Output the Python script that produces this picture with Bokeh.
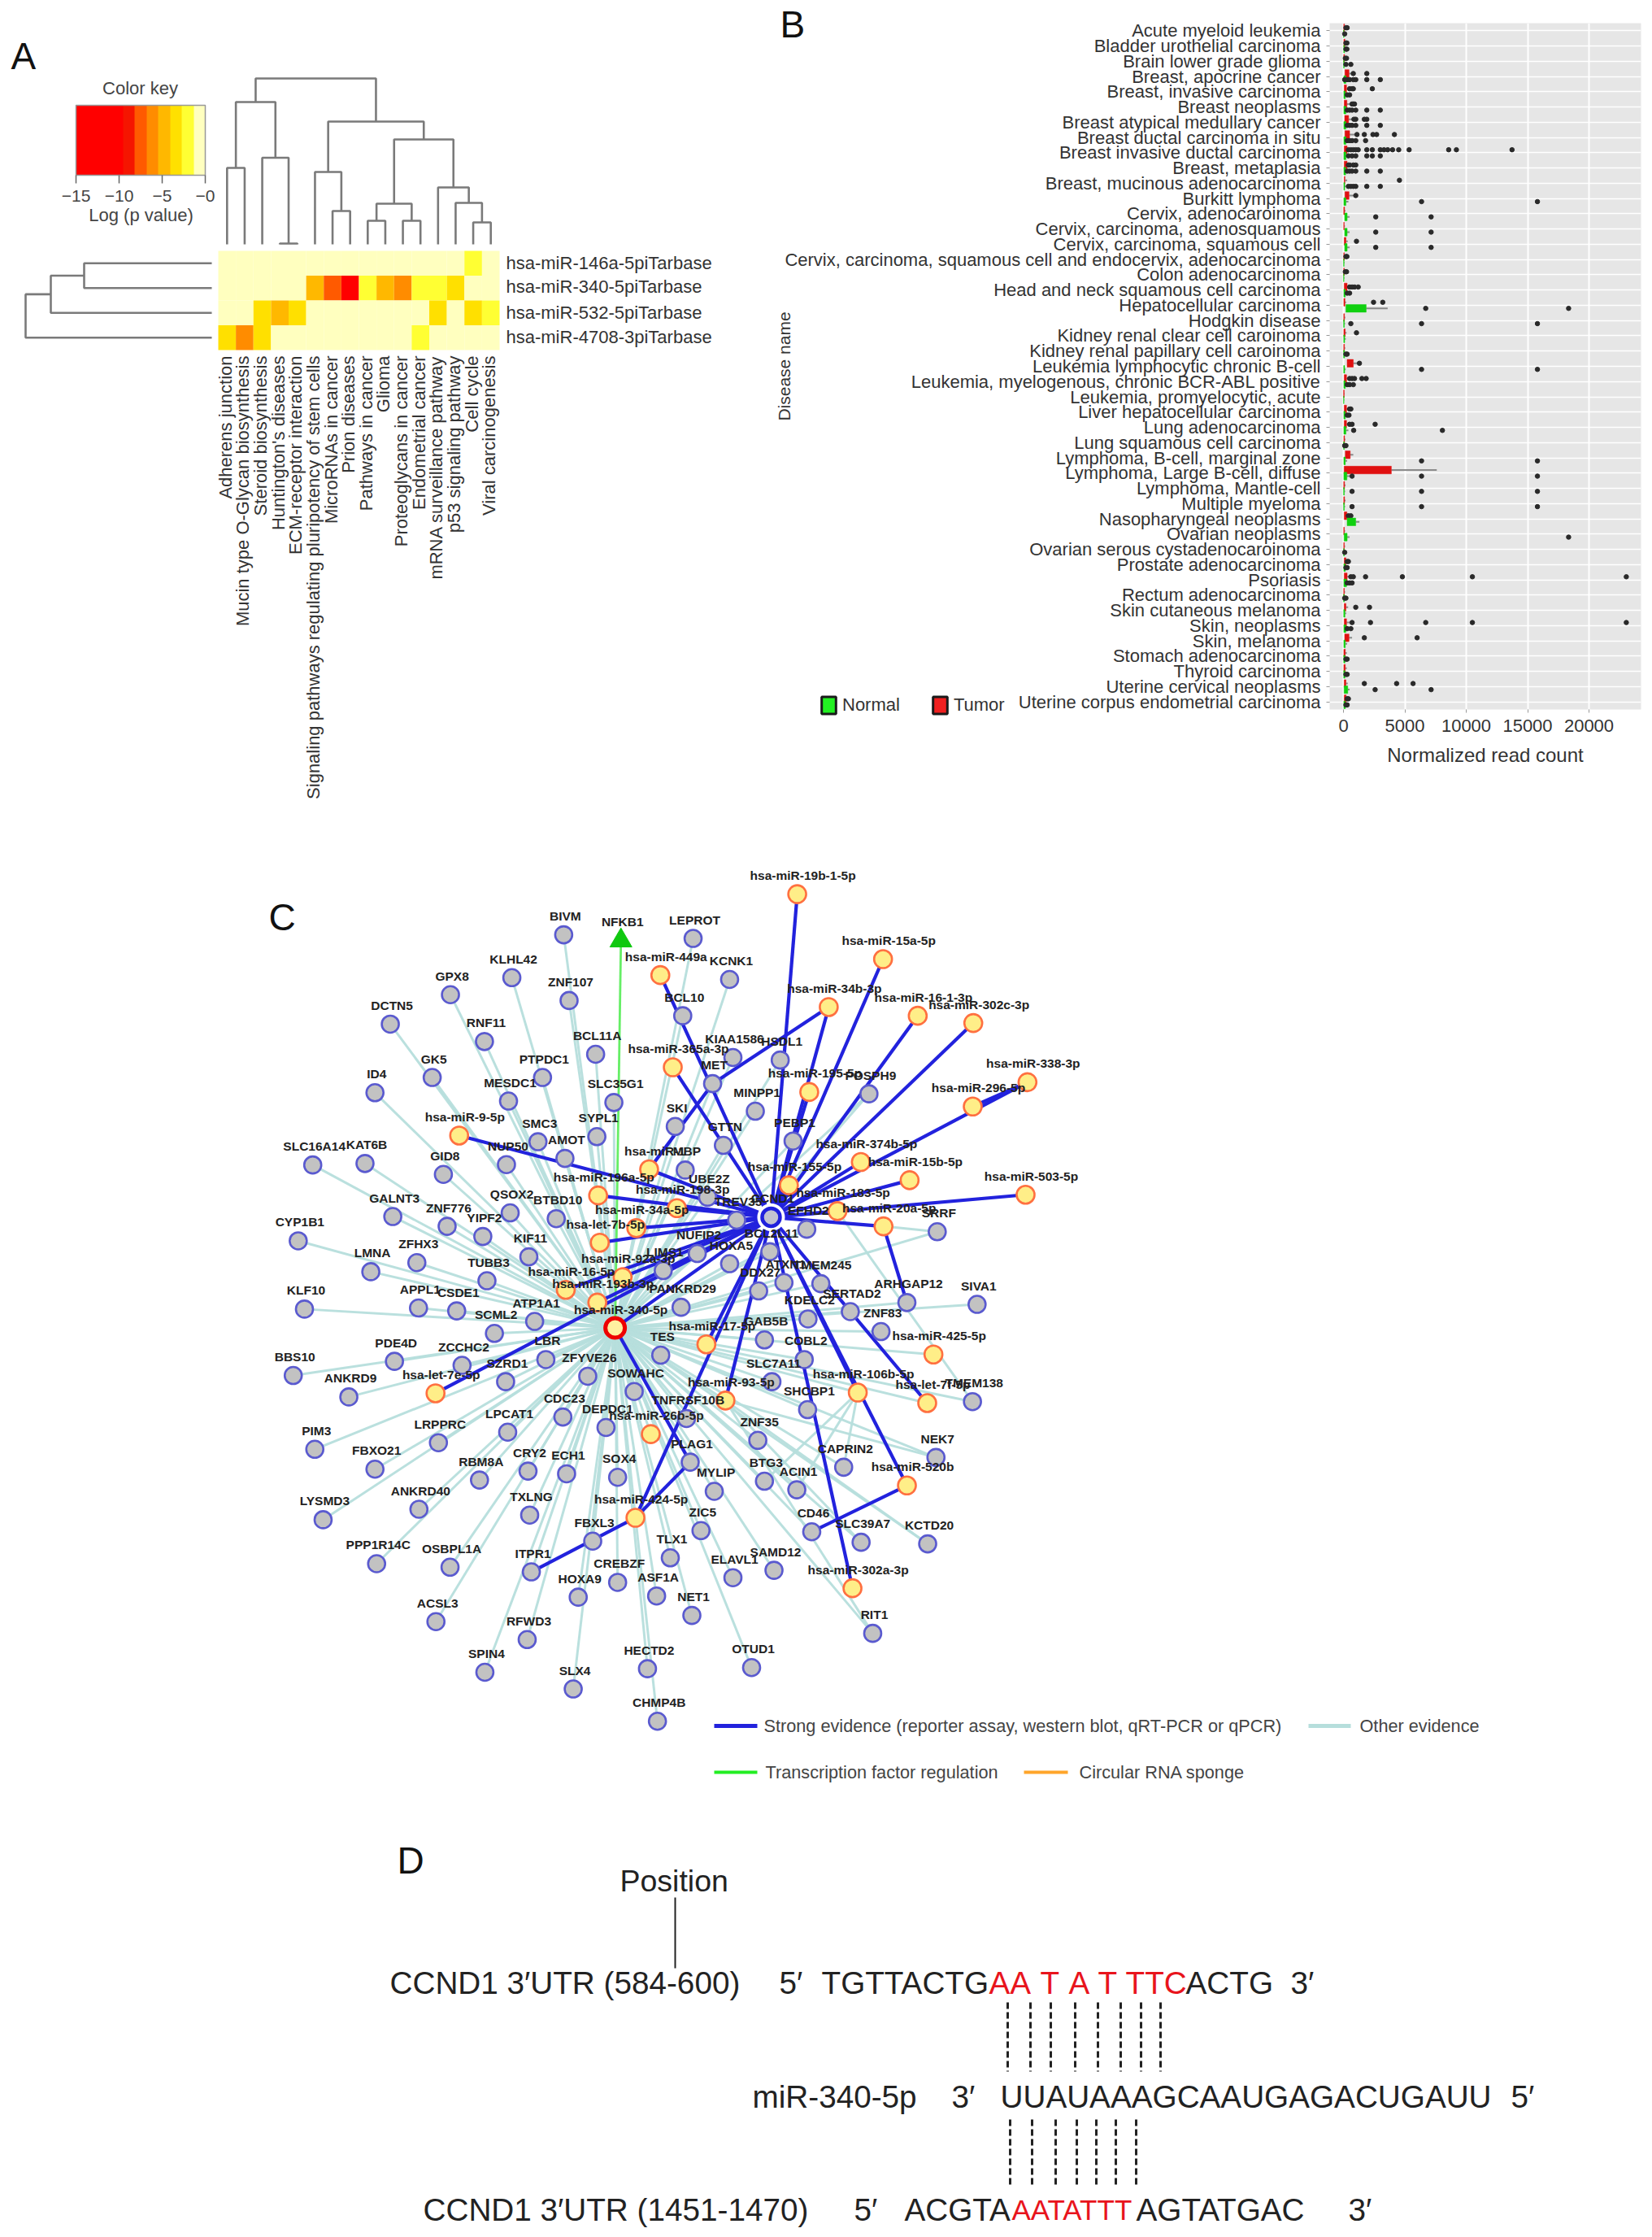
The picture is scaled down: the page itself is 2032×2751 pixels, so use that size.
import math
from bokeh.plotting import figure
from bokeh.layouts import row, column
from bokeh.models import (Range1d, FactorRange, ColumnDataSource, LinearColorMapper, ColorBar,
                          FixedTicker, Legend, LegendItem)
from bokeh.core.properties import value
from bokeh.transform import dodge
from bokeh.embed import file_html
from bokeh.resources import INLINE

FONT = value("Liberation Sans")

# ---------------- Panel A data ----------------
pathways = ["Adherens junction", "Mucin type O-Glycan biosynthesis", "Steroid biosynthesis", "Huntington's diseases",
            "ECM-receptor interaction", "Signaling pathways regulating pluripotency of stem cells", "MicroRNAs in cancer",
            "Prion diseases", "Pathways in cancer", "Glioma", "Proteoglycans in cancer", "Endometrial cancer",
            "mRNA surveillance pathway", "p53 signaling pathway", "Cell cycle", "Viral carcinogenesis"]
mirnas = ["hsa-miR-146a-5piTarbase", "hsa-miR-340-5piTarbase", "hsa-miR-532-5piTarbase", "hsa-miR-4708-3piTarbase"]
log_p = [
    [0, 0, 0, 0, 0, 0, 0, 0, 0, 0, 0, 0, 0, 0, -2, 0],
    [0, 0, 0, 0, 0, -5, -7.5, -14, -2, -4.5, -6.5, -2, -2, -4, 0, 0],
    [0, 0, -4, -5, -4, 0, 0, 0, 0, 0, 0, 0, -4, 0, -3, -2],
    [-3, -6.5, -3, 0, 0, 0, 0, 0, 0, 0, 0, -2, 0, 0, 0, 0],
]
key_palette = ["#FF0000", "#FF0000", "#FF0000", "#FF0000", "#F51500", "#FF5A00", "#FF8C00", "#FFB800", "#FFE000", "#FFFF33", "#FFFFBF"]
top_tree = (((0, 1, 94), (2, (3, 4, 1), 106.5), 175),
            ((5, (6, 7, 41), 89),
             (((8, 9, 29), (10, 11, 29), 50), (12, (13, (14, 15, 27), 51), 70), 129), 151), 204)
left_tree = (((0, 1, 157), 2, 198), 3, 229)

# ---------------- Panel B data ----------------
diseases = ["Acute myeloid leukemia", "Bladder urothelial carcinoma", "Brain lower grade glioma", "Breast, apocrine cancer",
            "Breast, invasive carcinoma", "Breast neoplasms", "Breast atypical medullary cancer", "Breast ductal carcinoma in situ",
            "Breast invasive ductal carcinoma", "Breast, metaplasia", "Breast, mucinous adenocarcinoma", "Burkitt lymphoma",
            "Cervix, adenocaroinoma", "Cervix, carcinoma, adenosquamous", "Cervix, carcinoma, squamous cell",
            "Cervix, carcinoma, squamous cell and endocervix, adenocarcinoma", "Colon adenocarcinoma",
            "Head and neck squamous cell carcinoma", "Hepatocellular carcinoma", "Hodgkin disease",
            "Kidney renal clear cell caroinoma", "Kidney renal papillary cell caroinoma", "Leukemia lymphocytic chronic B-cell",
            "Leukemia, myelogenous, chronic BCR-ABL positive", "Leukemia, promyelocytic, acute", "Liver hepatocellular carcinoma",
            "Lung adenocarcinoma", "Lung squamous cell carcinoma", "Lymphoma, B-cell, marginal zone",
            "Lymphoma, Large B-cell, diffuse", "Lymphoma, Mantle-cell", "Multiple myeloma", "Nasopharyngeal neoplasms",
            "Ovarian neoplasms", "Ovarian serous cystadenocaroinoma", "Prostate adenocarcinoma", "Psoriasis",
            "Rectum adenocarcinoma", "Skin cutaneous melanoma", "Skin, neoplasms", "Skin, melanoma", "Stomach adenocarcinoma",
            "Thyroid carcinoma", "Uterine cervical neoplasms", "Uterine corpus endometrial carcinoma"]
tumor_q1 = [20,30,20,120,60,60,100,120,60,60,60,120,20,20,60,20,20,60,30,20,30,20,300,60,10,60,60,30,150,50,20,20,60,20,20,60,60,20,60,60,100,30,30,60,60]
tumor_q3 = [80,120,90,450,250,280,420,500,300,300,120,450,90,60,200,70,60,300,120,80,140,80,800,250,60,250,250,90,550,3900,90,90,280,70,70,200,300,70,200,250,450,150,150,200,220]
tumor_wh = [150,220,150,900,500,600,850,1000,650,600,300,900,160,120,350,120,110,550,220,150,250,140,1200,500,100,450,450,160,800,7600,170,170,500,130,130,350,550,130,380,500,700,270,270,350,400]
normal_q1 = [10,20,10,30,30,30,30,30,30,30,30,30,100,100,100,10,10,30,200,10,20,10,20,30,10,30,30,10,30,30,10,10,300,50,10,30,30,10,20,30,30,20,20,50,30]
normal_q3 = [40,80,60,200,150,200,200,200,200,180,100,200,300,300,300,50,40,150,1850,70,100,90,100,150,40,150,200,70,150,280,70,70,1000,300,60,150,250,70,120,200,150,120,120,350,150]
normal_wh = [80,160,110,400,300,400,400,400,400,350,200,400,500,500,500,90,80,300,3600,130,190,170,180,300,70,300,400,130,300,500,130,130,1300,500,110,300,500,130,230,400,300,240,240,500,300]
tumor_out = [[200,300],[200,280],[150,250],[800,1900],[500,700,800,2350],[700,800,900],[850,1000,1900,1700],[1100,1700,2400,2700,4150],
             [400,600,800,1000,1200,1900,2350,3000,3300,3600,4000,4500,5350,8570,9200,13730],[400,500,800,1000],[4560],[1000],
             [],[],[1060],[200,280],[150,250],[500,700,900,1200],[2450,3200],[],[1060],[],[1300],[500,700,900,1500,1850],[],
             [500,600],[500,700,2580],[],[],[],[],[],[400,600],[],[],[300,400],[600,800,1800,4800,10500,23040],[],[1000,2120],
             [700,2200,6700,10500,23040],[1700,6000],[],[],[1700,4330,5670],[300,400]]
normal_out = [[100],[200,280],[200,600],[100,300,500,800,1000,1900,3000],[300,500],[300,500,700,1000,1900,3000],[300,500,700,1000,1900,3000],
              [300,500,700,1000,1800],[400,700,1000,1900,2350,3000],[300,500,700,1000,1900,3000],[400,600,800,1000,1900,3000],[6360,15800],
              [2630,7140],[2630,7140],[2630,7140],[],[],[300,500],[6700,18340],[600,6360,15800],[],[300,200],[6360,15800],
              [300,500,800],[],[300,450],[830,8060],[200,100],[6360,15800],[700,6360,15800],[700,6360,15800],[700,6360,15800],[],
              [18340],[100],[300,200],[300,500,700],[200,100],[],[300,600],[],[300,200],[300,200],[2580,7140],[300,200]]
x_ticks = [0, 5000, 10000, 15000, 20000]

# ---------------- Panel C data (positions) ----------------
# frames are the picture crops the coordinates were read in: origin x, origin y, scale x, scale y
F4, F5, F6, F7 = (300, 1050, 1.96, 2.24), (1000, 1050, 3.0, 2.24), (300, 1500, 1.96, 2.09), (800, 1500, 1.568, 2.09)
genes_f4 = [("BIVM",770,222),("LEPROT",1082,232),("KCNK1",1170,345),("KLHL42",645,340),("GPX8",497,387),("ZNF107",783,403),
            ("DCTN5",352,468),("BCL10",1057,445),("RNF11",579,516),("BCL11A",847,551),("GK5",453,615),("PTPDC1",719,615),
            ("KIAA1586",1178,560),("HSDL1",1292,567),("ID4",315,657),("MESDC1",637,680),("SLC35G1",891,684),("MET",1129,632),
            ("MINPP1",1232,708),("SMC3",708,792),("SYPL1",850,778),("AMOT",773,838),("SKI",1039,750),("GTTN",1155,802),
            ("PEBP1",1323,790),("NUP50",632,855),("SLC16A14",165,856),("KAT6B",291,852),("GID8",480,882),("MBP",1063,870),
            ("UBE2Z",1117,945),("TREV35",1187,1008),("QSOX2",641,988),("BTBD10",752,1004),("GALNT3",358,998),("ZNF776",489,1025),
            ("YIPF2",575,1053),("CYP1B1",130,1065),("KIF11",686,1109),("LIMS1",1010,1147),("HOXA5",1170,1128),("NUFIP2",1092,1100),
            ("BCL2L11",1267,1095),("EFHD2",1356,1033),("ATXN1",1301,1180),("TMEM245",1390,1183),("DDX27",1240,1203),
            ("SERTAD2",1461,1260),("KDELC2",1359,1280),("ZNF83",1535,1315),("ZFHX3",416,1125),("LMNA",305,1150),("TUBB3",585,1175),
            ("KLF10",145,1253),("APPL1",420,1250),("CSDE1",512,1258),("ATP1A1",700,1287),("SCML2",603,1320),("PANKRD29",1053,1248),
            ("GAB5B",1254,1338),("TES",1004,1380),("COBL2",1350,1392),("PDE4D",362,1397),("ZCCHC2",525,1408),("LBR",727,1392),
            ("ZFYVE26",828,1438),("BBS10",118,1436),("ANKRD9",252,1495),("SZRD1",630,1453),("SOWAHC",940,1480),("SLC7A11",1272,1453),
            ("SHCBP1",1358,1530)]
genes_f6 = [("TNFRSF10B",1066,510),("CDC23",768,506),("LPCAT1",635,545),("DEPDC1",872,533),("ZNF35",1238,566),("LRPPRC",468,572),
            ("PIM3",170,589),("FBXO21",315,640),("RBM8A",567,668),("CRY2",684,645),("ECH1",777,652),("SOX4",900,661),("PLAG1",1075,622),
            ("BTG3",1254,671),("CAPRIN2",1445,635),("MYLIP",1133,697),("ACIN1",1332,693),("ANKRD40",421,743),("LYSMD3",190,770),
            ("TXLNG",688,758),("ZIC5",1101,798),("FBXL3",840,825),("CD46",1368,801),("SLC39A7",1487,828),("PPP1R14C",319,883),
            ("OSBPL1A",496,892),("ITPR1",692,904),("TLX1",1027,868),("ELAVL1",1178,919),("SAMD12",1277,900),("CREBZF",900,931),
            ("HOXA9",805,969),("ASF1A",994,966),("NET1",1079,1016),("ACSL3",462,1032),("RFWD3",682,1078),("RIT1",1515,1062),
            ("SPIN4",580,1162),("HECTD2",972,1153),("OTUD1",1223,1150),("SLX4",793,1205),("CHMP4B",996,1288)]
genes_f5 = [("POSPH9",205,660),("SRRF",457,1040),("ARHGAP12",345,1235),("SIVA1",604,1240),("TMEM138",587,1508)]
genes_f7 = [("NEK7",550,610),("KCTD20",534,832)]
mirs_f4 = [("hsa-miR-19b-1-5p",1333,110),("hsa-miR-449a",1003,333),("hsa-miR-34b-3p",1409,421),("hsa-miR-365a-3p",1033,587),
           ("hsa-miR-195-5p",1362,655),("hsa-miR-9-5p",518,775),("hsa-miR-1",976,868),("hsa-miR-155-5p",1313,912),
           ("hsa-miR-196a-5p",853,940),("hsa-miR-198-3p",1043,975),("hsa-miR-34a-5p",945,1030),("hsa-let-7b-5p",857,1070),
           ("hsa-miR-183-5p",1430,983),("hsa-miR-20a-5p",1541,1025),("hsa-miR-92a-3p",912,1165),("hsa-miR-16-5p",775,1200),
           ("hsa-miR-193b-3p",851,1235),("hsa-miR-17-5p",1114,1350),("hsa-let-7e-5p",461,1485),("hsa-miR-93-5p",1160,1505),
           ("hsa-miR-106b-5p",1479,1483)]
mirs_f5 = [("hsa-miR-15a-5p",257,289),("hsa-miR-16-1-3p",385,445),("hsa-miR-302c-3p",590,465),("hsa-miR-338-3p",790,628),
           ("hsa-miR-296-5p",588,695),("hsa-miR-374b-5p",175,848),("hsa-miR-15b-5p",355,898),("hsa-miR-503-5p",783,938),
           ("hsa-miR-425-5p",443,1378),("hsa-let-7f-5p",420,1512)]
mirs_f6 = [("hsa-miR-26b-5p",980,550),("hsa-miR-424-5p",943,765)]
mirs_f7 = [("hsa-miR-520b",494,682),("hsa-miR-302a-3p",389,946)]
hubs_f4 = [("hsa-miR-340-5p",894,1305),("CCND1",1270,1000),("NFKB1",908,238)]
strong_to_ccnd1 = ["hsa-miR-19b-1-5p","hsa-miR-449a","hsa-miR-34b-3p","hsa-miR-365a-3p","hsa-miR-195-5p","hsa-miR-9-5p","hsa-miR-1",
                   "hsa-miR-155-5p","hsa-miR-196a-5p","hsa-miR-198-3p","hsa-miR-34a-5p","hsa-let-7b-5p","hsa-miR-183-5p","hsa-miR-20a-5p",
                   "hsa-miR-92a-3p","hsa-miR-16-5p","hsa-miR-193b-3p","hsa-miR-17-5p","hsa-let-7e-5p","hsa-miR-93-5p","hsa-miR-106b-5p",
                   "hsa-miR-15a-5p","hsa-miR-16-1-3p","hsa-miR-302c-3p","hsa-miR-338-3p","hsa-miR-374b-5p","hsa-miR-15b-5p","hsa-miR-503-5p",
                   "hsa-let-7f-5p","hsa-miR-424-5p","hsa-miR-520b","hsa-miR-302a-3p","hsa-miR-340-5p"]
strong_other = [("hsa-miR-34b-3p","MET"),("MET","hsa-miR-1"),("hsa-miR-340-5p","PLAG1"),("hsa-miR-424-5p","ITPR1"),("hsa-miR-424-5p","PLAG1"),
                ("hsa-miR-520b","CD46"),("hsa-miR-20a-5p","ARHGAP12"),("hsa-miR-296-5p","hsa-miR-338-3p")]
other_extra = [("hsa-miR-93-5p","NEK7"),("hsa-miR-93-5p","SLC39A7"),("hsa-miR-93-5p","KCTD20"),("hsa-miR-93-5p","RIT1"),
               ("hsa-miR-106b-5p","BTG3"),("hsa-miR-106b-5p","ACIN1"),("hsa-miR-106b-5p","CAPRIN2"),("hsa-miR-155-5p","POSPH9"),
               ("hsa-miR-20a-5p","SRRF"),("hsa-miR-183-5p","TMEM138")]
tf_edges = [("NFKB1","hsa-miR-340-5p")]

# ---------------- Panel D data ----------------
d_text = ["Position","CCND1 3\u2032UTR (584-600)","5\u2032","TGTTACTG","AA","T","A","T","TTC","ACTG","3\u2032",
          "miR-340-5p","3\u2032","UUAUAAAGCAAUGAGACUGAUU","5\u2032",
          "CCND1 3\u2032UTR (1451-1470)","5\u2032","ACGTA","AATATTT","AGTATGAC","3\u2032"]
d_x = [762,479,958,1010,1216,1279,1314,1350,1384,1458,1587,925,1170,1230,1858,520,1050,1112,1244,1397,1658]
d_y = [2312,2438,2438,2438,2438,2438,2438,2438,2438,2438,2438,2578,2578,2578,2578,2717,2717,2717,2717,2717,2717]
d_col = ["#222","#222","#222","#222","#E8141C","#E8141C","#E8141C","#E8141C","#E8141C","#222","#222",
         "#222","#222","#222","#222","#222","#222","#222","#E8141C","#222","#222"]
d_size = ["37.5px"]+["38.7px"]*17+["35px"]+["38.7px"]*2
pairs_top = [1239,1267,1292,1322,1350,1378,1403,1427]
pairs_bottom = [1242,1269,1298,1324,1348,1372,1397]


def bare(p):
    p.xgrid.visible = False
    p.ygrid.visible = False
    p.outline_line_color = None


# ---------------- Panel A (its canvas runs on beneath panel B's label margin) ----------------
AX0, AX1, AY0, AY1 = 0, 1240, 0, 990
HX, HY, CW, RH = 268.0, 308.0, 21.625, 30.5
A = figure(width=AX1-AX0, height=AY1-AY0, output_backend="svg", toolbar_location=None, min_border=0, frame_align=False,
           x_axis_location=None, y_axis_location=None,
           x_range=Range1d((AX0-HX)/CW-0.5, (AX1-HX)/CW-0.5), y_range=Range1d((AY1-HY)/RH-0.5, (AY0-HY)/RH-0.5))
bare(A)
A.extra_x_ranges = {"px": Range1d(AX0, AX1), "tree": Range1d(260-AX0, 260-AX1)}
A.extra_y_ranges = {"py": Range1d(AY1, AY0), "tree": Range1d(300-AY1, 300-AY0)}

mapper = LinearColorMapper(palette=key_palette, low=-15, high=0)
cells = dict(col=[], r=[], v=[])
for r, vals in enumerate(log_p):
    for c, v in enumerate(vals):
        cells["col"].append(c); cells["r"].append(r); cells["v"].append(v)
A.rect(x="col", y="r", width=1, height=1, source=ColumnDataSource(cells),
       fill_color={"field": "v", "transform": mapper}, line_color=None)


def walk(n, xs, ys):
    if isinstance(n, int):
        return float(n), 0.0
    a, ah = walk(n[0], xs, ys)
    b, bh = walk(n[1], xs, ys)
    h = n[2]
    xs.append([a, a, b, b]); ys.append([ah, h, h, bh])
    return (a+b)/2, h


tx, ty = [], []
walk(top_tree, tx, ty)
A.multi_line(tx, ty, y_range_name="tree", line_color="#7A7A7A", line_width=2.6)
lh, lr = [], []
walk(left_tree, lr, lh)
A.multi_line(lh, lr, x_range_name="tree", line_color="#7A7A7A", line_width=2.6)

A.text(x=list(range(16)), y=[3.5]*16, text=pathways, angle=math.pi/2, text_align="right", text_baseline="middle",
       y_offset=7, x_offset=-2, text_font=FONT, text_font_size="22px", text_color="#333")
A.text(x=[15.5]*4, y=[0, 0.95, 2, 2.98], text=mirnas, x_offset=8, text_baseline="middle", text_font=FONT,
       text_font_size="22px", text_color="#333")
A.text(x=[172, 173], y=[108, 264], text=["Color key", "Log (p value)"], x_range_name="px", y_range_name="py",
       text_align="center", text_baseline="middle", text_font=FONT, text_font_size="22px", text_color="#444")
A.text(x=[13, 959], y=[68, 29], text=["A", "B"], x_range_name="px", y_range_name="py", text_font=FONT,
       text_font_size="46px", text_color="#111", text_baseline="middle")
cb = ColorBar(color_mapper=mapper, orientation="horizontal", location=(93, 740), width=159, height=86,
              ticker=FixedTicker(ticks=[-15, -10, -5, 0]),
              major_label_overrides={-15: "\u221215", -10: "\u221210", -5: "\u22125", 0: "\u22120"},
              major_label_text_font="Liberation Sans", major_label_text_font_size="21px", major_label_text_color="#444",
              major_tick_in=0, major_tick_out=10, major_tick_line_color="#666", major_tick_line_width=1.5,
              label_standoff=8, bar_line_color="#999", bar_line_width=1.5, padding=0, margin=0,
              background_fill_alpha=0, border_line_color=None)
A.add_layout(cb)
nan = float("nan")
rn = A.rect(x=[nan], y=[nan], width=1, height=1, fill_color="#22F022", line_color="#1A1A1A", line_width=3)
rt = A.rect(x=[nan], y=[nan], width=1, height=1, fill_color="#F02020", line_color="#1A1A1A", line_width=3)
leg = Legend(items=[LegendItem(label="Normal", renderers=[rn]), LegendItem(label="Tumor", renderers=[rt])],
             orientation="horizontal", location=(1008, 990-880), glyph_width=22, glyph_height=26, label_standoff=6, spacing=38,
             padding=0, margin=0, border_line_color=None, background_fill_alpha=0,
             label_text_font="Liberation Sans", label_text_font_size="22px", label_text_color="#333")
A.add_layout(leg)

# ---------------- Panel B ----------------
BX0, BX1, BY0, BY1 = 930, 2032, 0, 990
FL, FR, FT, FB = 1635, 2018, 28, 872
Y = FactorRange(factors=diseases[::-1], range_padding=0, factor_padding=0)
PX_PER_UNIT = (1954-1652)/20000
B = figure(width=BX1-BX0, height=BY1-BY0, output_backend="svg", toolbar_location=None, frame_align=False,
           margin=(0, 0, 0, BX0-AX1), border_fill_color=None,
           y_range=Y, x_range=Range1d((FL-1652)/PX_PER_UNIT, (FR-1652)/PX_PER_UNIT),
           min_border_left=FL-BX0, min_border_right=BX1-FR, min_border_top=FT-BY0, min_border_bottom=BY1-FB,
           background_fill_color="#E6E6E6", outline_line_color=None)
B.xgrid.grid_line_color = "white"; B.xgrid.grid_line_width = 2
B.ygrid.grid_line_color = "white"; B.ygrid.grid_line_width = 1.6
B.xaxis.ticker = FixedTicker(ticks=x_ticks)
B.xaxis.axis_line_color = None; B.yaxis.axis_line_color = None
B.xaxis.major_tick_line_color = "#999"; B.yaxis.major_tick_line_color = "#999"
B.xaxis.major_tick_out = 4; B.yaxis.major_tick_out = 4
B.xaxis.major_tick_in = 0; B.yaxis.major_tick_in = 0
B.xaxis.minor_tick_line_color = None
for ax in (B.xaxis, B.yaxis):
    ax.major_label_text_font = "Liberation Sans"; ax.major_label_text_font_size = "22px"; ax.major_label_text_color = "#333"
    ax.axis_label_text_font = "Liberation Sans"; ax.axis_label_text_font_style = "normal"
    ax.axis_label_text_color = "#333"
B.xaxis.axis_label = "Normalized read count"; B.xaxis.axis_label_text_font_size = "24px"; B.xaxis.axis_label_standoff = 12
B.yaxis.axis_label = "Disease name"; B.yaxis.axis_label_text_font_size = "21px"; B.yaxis.axis_label_standoff = -14
B.xaxis.major_label_standoff = 8; B.yaxis.major_label_standoff = 7

for off, q1, q3, wh, col, outs in [(0.2, tumor_q1, tumor_q3, tumor_wh, "#E01010", tumor_out),
                                   (-0.2, normal_q1, normal_q3, normal_wh, "#10D010", normal_out)]:
    src = ColumnDataSource(dict(d=diseases, q1=q1, q3=q3, wh=wh))
    yy = dodge("d", off, range=Y)
    B.segment(x0="q3", x1="wh", y0=yy, y1=yy, source=src, line_color="#8A8A8A", line_width=2)
    B.hbar(y=yy, left="q1", right="q3", height=0.5, source=src, fill_color=col, line_color=col, line_width=0.5)
    ox = [v for vs in outs for v in vs]
    oy = [d for d, vs in zip(diseases, outs) for _ in vs]
    B.scatter(x="x", y=dodge("y", off, range=Y), source=ColumnDataSource(dict(x=ox, y=oy)), size=5.5,
              fill_color="#2A2A2A", line_color="#2A2A2A")

# ---------------- Panel C ----------------
CX0, CX1, CY0, CY1 = 0, 2032, 990, 2240
C = figure(width=CX1-CX0, height=CY1-CY0, output_backend="svg", toolbar_location=None, min_border=0, frame_align=False,
           x_axis_location=None, y_axis_location=None, x_range=Range1d(CX0, CX1), y_range=Range1d(CY1, CY0))
bare(C)


def place(items, f):
    return {n: (f[0]+zx/f[2], f[1]+zy/f[3]) for n, zx, zy in items}


G = {}
for items, f in [(genes_f4, F4), (genes_f6, F6), (genes_f5, F5), (genes_f7, F7)]:
    G.update(place(items, f))
M = {}
for items, f in [(mirs_f4, F4), (mirs_f5, F5), (mirs_f6, F6), (mirs_f7, F7)]:
    M.update(place(items, f))
H = place(hubs_f4, F4)
POS = {**G, **M, **H}
HUB340, CCND1 = "hsa-miR-340-5p", "CCND1"


def edges(pairs, color, width, alpha=1.0):
    C.segment(x0=[POS[a][0] for a, b in pairs], y0=[POS[a][1] for a, b in pairs],
              x1=[POS[b][0] for a, b in pairs], y1=[POS[b][1] for a, b in pairs],
              line_color=color, line_width=width, line_alpha=alpha)


edges([(HUB340, n) for n in list(G)+["hsa-miR-425-5p", "hsa-miR-26b-5p", "hsa-let-7f-5p", "hsa-miR-106b-5p", "hsa-miR-93-5p"]]+other_extra,
      "#B6DEDC", 3.0, 0.95)
edges(tf_edges, "#66EE66", 2.8)
edges([(CCND1, n) for n in strong_to_ccnd1]+strong_other, "#2222DD", 4.2)


def nodes(names, **kw):
    C.scatter(x=[POS[n][0] for n in names], y=[POS[n][1] for n in names], **kw)


nodes(list(G), size=21, fill_color="#C2C2C2", line_color="#5A5ACF", line_width=2.6)
nodes(list(M), size=22, fill_color="#FFEE88", line_color="#FF7040", line_width=2.6)
C.scatter(x=[POS[HUB340][0]], y=[POS[HUB340][1]], size=24, fill_color="#FFF0A0", line_color="#EE0000", line_width=5)
C.scatter(x=[POS[CCND1][0]], y=[POS[CCND1][1]], size=34, fill_color="white", line_color=None)
C.scatter(x=[POS[CCND1][0]], y=[POS[CCND1][1]], size=22, fill_color="#C2C2D0", line_color="#2020DD", line_width=4.5)
C.scatter(x=[POS["NFKB1"][0]], y=[POS["NFKB1"][1]], marker="triangle", size=27, fill_color="#10C810", line_color="#10C810")

lab = dict(x=[], y=[], t=[])
for n, (x, y) in {**G, **M, **H}.items():
    dx = 7 if n.startswith("hsa") else 2
    lab["x"].append(x+dx); lab["y"].append(y-23); lab["t"].append(n)
C.text(x="x", y="y", text="t", source=ColumnDataSource(lab), text_align="center", text_baseline="middle",
       text_font=FONT, text_font_size="15.5px", text_font_style="bold", text_color="#222")
C.text(x=[330], y=[1127], text=["C"], text_font=FONT, text_font_size="46px", text_color="#111", text_baseline="middle")

leg_x0 = [878, 1609, 878, 1259]
leg_x1 = [931, 1661, 931, 1313]
leg_y = [2122, 2122, 2179, 2179]
leg_col = ["#2222DD", "#B6DEDC", "#22EE22", "#FFA52A"]
leg_w = [5, 5, 4, 4]
leg_tx = [939, 1672, 941, 1327]
leg_lab = ["Strong evidence (reporter assay, western blot, qRT-PCR or qPCR)", "Other evidence",
           "Transcription factor regulation", "Circular RNA sponge"]
C.segment(x0=leg_x0, x1=leg_x1, y0=leg_y, y1=leg_y, line_color=leg_col, line_width=leg_w)
C.text(x=leg_tx, y=leg_y, text=leg_lab, text_baseline="middle", text_font=FONT, text_font_size="21.7px", text_color="#444")

# ---------------- Panel D ----------------
DX0, DX1, DY0, DY1 = 0, 2032, 2240, 2745
D = figure(width=DX1-DX0, height=DY1-DY0, output_backend="svg", toolbar_location=None, min_border=0, frame_align=False,
           x_axis_location=None, y_axis_location=None, x_range=Range1d(DX0, DX1), y_range=Range1d(DY1, DY0))
bare(D)
D.text(x=[488], y=[2287], text=["D"], text_font=FONT, text_font_size="46px", text_color="#111", text_baseline="middle")
D.text(x="x", y="y", text="t", text_color="c", text_font_size="s",
       source=ColumnDataSource(dict(x=d_x, y=d_y, t=d_text, c=d_col, s=d_size)),
       text_baseline="middle", text_font=FONT)
D.segment(x0=[830], x1=[830], y0=[2333], y1=[2420], line_color="#222", line_width=2)
D.segment(x0=pairs_top, x1=pairs_top, y0=[2462]*8, y1=[2547]*8, line_color="#222", line_width=3, line_dash="8 4")
D.segment(x0=pairs_bottom, x1=pairs_bottom, y0=[2606]*7, y1=[2690]*7, line_color="#222", line_width=3, line_dash="8 4")

page = column(row(A, B, spacing=0), C, D, spacing=0)
open("out.html", "w").write(file_html(page, INLINE))
